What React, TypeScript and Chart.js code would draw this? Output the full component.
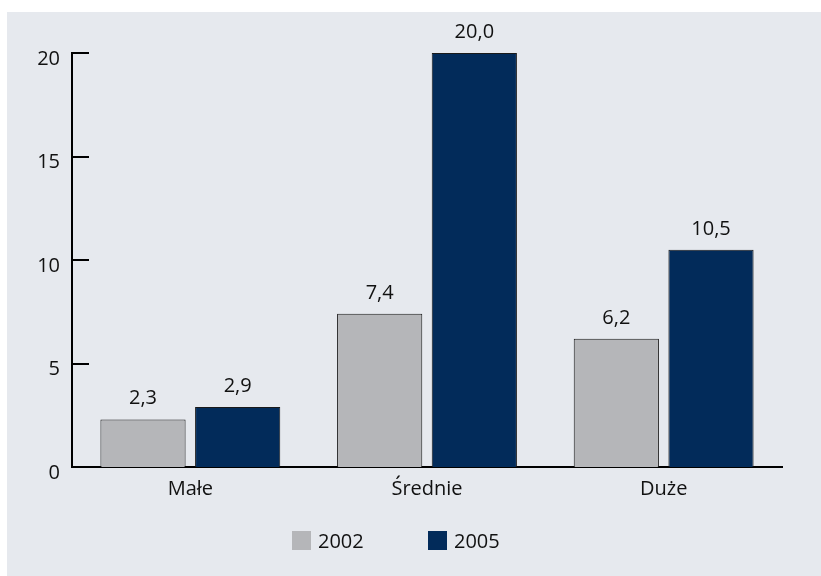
import React, { useEffect, useRef } from "react";
import { Chart, registerables } from "chart.js";

Chart.register(...registerables);

const categories = ["Małe", "Średnie", "Duże"];
const seriesLabels = ["2002", "2005"];
const values2002 = [2.3, 7.4, 6.2];
const values2005 = [2.9, 20.0, 10.5];
const yTickMin = 0;
const yTickMax = 20;
const yTickStep = 5;

const seriesColors = ["#b5b6b9", "#022b5a"];
const FONT = "'Open Sans', 'Noto Sans', sans-serif";
const TEXT = "#111111";

const formatValue = (v: number) => v.toFixed(1).replace(".", ",");

// Short tick marks drawn inward from the value axis
const innerTicks = {
  id: "innerTicks",
  afterDraw(chart: any) {
    const { ctx, chartArea } = chart;
    const y = chart.scales.y;
    ctx.save();
    ctx.strokeStyle = "#000";
    ctx.lineWidth = 2;
    y.ticks.forEach((t: any) => {
      const py = Math.round(y.getPixelForValue(t.value));
      ctx.beginPath();
      ctx.moveTo(chartArea.left, py);
      ctx.lineTo(chartArea.left + 17, py);
      ctx.stroke();
    });
    ctx.restore();
  },
};

// Value labels above each bar
const valueLabels = {
  id: "valueLabels",
  afterDatasetsDraw(chart: any) {
    const ctx = chart.ctx;
    ctx.save();
    ctx.font = `20px ${FONT}`;
    ctx.fillStyle = TEXT;
    ctx.textAlign = "center";
    ctx.textBaseline = "alphabetic";
    chart.data.datasets.forEach((ds: any, i: number) => {
      chart.getDatasetMeta(i).data.forEach((bar: any, j: number) => {
        ctx.fillText(formatValue(ds.data[j]), bar.x, bar.y - 15);
      });
    });
    ctx.restore();
  },
};

function BarChart() {
  const ref = useRef<HTMLCanvasElement | null>(null);

  useEffect(() => {
    if (!ref.current) return;
    const chart = new Chart(ref.current, {
      type: "bar",
      data: {
        labels: categories,
        datasets: [
          {
            label: seriesLabels[0],
            data: values2002,
            backgroundColor: seriesColors[0],
            borderColor: "#1a1a1a",
            borderWidth: 1,
          },
          {
            label: seriesLabels[1],
            data: values2005,
            backgroundColor: seriesColors[1],
            borderColor: "#1a1a1a",
            borderWidth: 1,
          },
        ],
      },
      options: {
        responsive: false,
        animation: false,
        layout: { padding: { left: 0, right: 39, top: 41, bottom: 0 } },
        datasets: { bar: { categoryPercentage: 0.8, barPercentage: 0.9 } },
        plugins: {
          legend: { display: false },
          tooltip: { enabled: false },
        },
        scales: {
          x: {
            grid: { display: false, drawTicks: false },
            border: { display: true, color: "#000", width: 2 },
            ticks: { color: TEXT, font: { family: FONT, size: 20 }, padding: 10 },
            afterFit: (s: any) => {
              s.height = 109;
            },
          },
          y: {
            min: yTickMin,
            max: yTickMax,
            grid: { display: false, drawTicks: false },
            border: { display: true, color: "#000", width: 2 },
            ticks: {
              stepSize: yTickStep,
              color: TEXT,
              font: { family: FONT, size: 20 },
              padding: 12,
              labelOffset: 6,
            },
            afterFit: (s: any) => {
              s.width = 65;
            },
          },
        },
      },
      plugins: [innerTicks, valueLabels],
    });
    return () => chart.destroy();
  }, []);

  return <canvas ref={ref} width={814} height={564} style={{ display: "block" }} />;
}

export default function App() {
  return (
    <div
      style={{
        position: "absolute",
        left: 7,
        top: 12,
        width: 814,
        height: 564,
        background: "#e6e9ee",
        fontFamily: FONT,
      }}
    >
      <BarChart />
      {seriesLabels.map((lab, i) => (
        <div
          key={lab}
          style={{
            position: "absolute",
            left: i === 0 ? 285 : 421,
            top: 519,
            height: 19,
            display: "flex",
            alignItems: "center",
            fontSize: 20,
            color: TEXT,
            lineHeight: "19px",
          }}
        >
          <span
            style={{
              display: "inline-block",
              width: 19,
              height: 19,
              background: seriesColors[i],
              marginRight: 7,
            }}
          />
          <span>{lab}</span>
        </div>
      ))}
    </div>
  );
}
